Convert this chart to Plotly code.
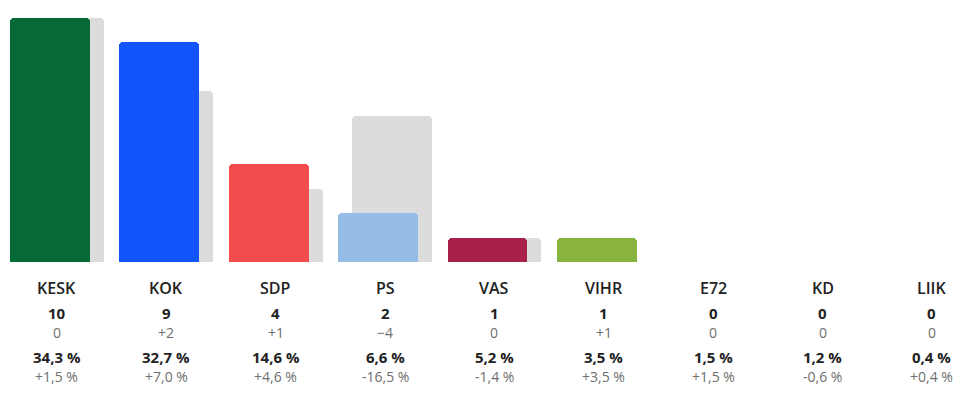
import plotly.graph_objects as go

parties = ["KESK", "KOK", "SDP", "PS", "VAS", "VIHR", "E72", "KD", "LIIK"]
seats = [10, 9, 4, 2, 1, 1, 0, 0, 0]
prev_seats = [10, 7, 3, 6, 1, 0, 0, 0, 0]
seat_change = ["0", "+2", "+1", "\u22124", "0", "+1", "0", "0", "0"]
vote_pct = ["34,3 %", "32,7 %", "14,6 %", "6,6 %", "5,2 %", "3,5 %", "1,5 %", "1,2 %", "0,4 %"]
pct_change = ["+1,5 %", "+7,0 %", "+4,6 %", "-16,5 %", "-1,4 %", "+3,5 %", "+1,5 %", "-0,6 %", "+0,4 %"]
colors = ["#066a36", "#1255fb", "#f44c4c", "#95bde6", "#a72148", "#89b33f", "#cccccc", "#cccccc", "#cccccc"]

x = list(range(len(parties)))
W = 0.73
SHIFT = 0.128

fig = go.Figure()
fig.add_trace(go.Bar(x=x, y=prev_seats, width=W, offset=-W / 2 + SHIFT / 2,
                     marker=dict(color="#dcdcdc", line=dict(width=0)),
                     hoverinfo="skip", showlegend=False))
fig.add_trace(go.Bar(x=x, y=seats, width=W, offset=-W / 2 - SHIFT / 2,
                     marker=dict(color=colors, line=dict(width=0)),
                     hoverinfo="skip", showlegend=False))

H = 262.0
FONT = "Open Sans"
rows = [
    (parties, 288, 16, "#222222", 600),
    ([str(s) for s in seats], 312.5, 15, "#222222", 700),
    (seat_change, 332, 14, "#6e6e6e", 400),
    (vote_pct, 356.5, 15, "#222222", 700),
    (pct_change, 376, 14, "#6e6e6e", 400),
]
anns = []
for texts, ypix, size, col, weight in rows:
    for i, t in enumerate(texts):
        anns.append(dict(x=i, xref="x", y=-(ypix - H) / H, yref="paper",
                         text=t, showarrow=False, xanchor="center", yanchor="middle",
                         borderpad=0,
                         font=dict(family=FONT, size=size, color=col, weight=weight)))

fig.update_layout(
    width=979, height=397,
    margin=dict(l=0, r=0, t=0, b=135),
    paper_bgcolor="white", plot_bgcolor="white",
    barmode="overlay", barcornerradius=4, bargap=0,
    xaxis=dict(range=[-0.521, 8.430], visible=False, fixedrange=True),
    yaxis=dict(range=[0, 10.74], visible=False, fixedrange=True),
    annotations=anns,
    font=dict(family=FONT),
)

fig.write_html("out.html", config={"displayModeBar": False},
               post_script="document.body.style.margin='0';document.body.style.overflow='hidden';")
